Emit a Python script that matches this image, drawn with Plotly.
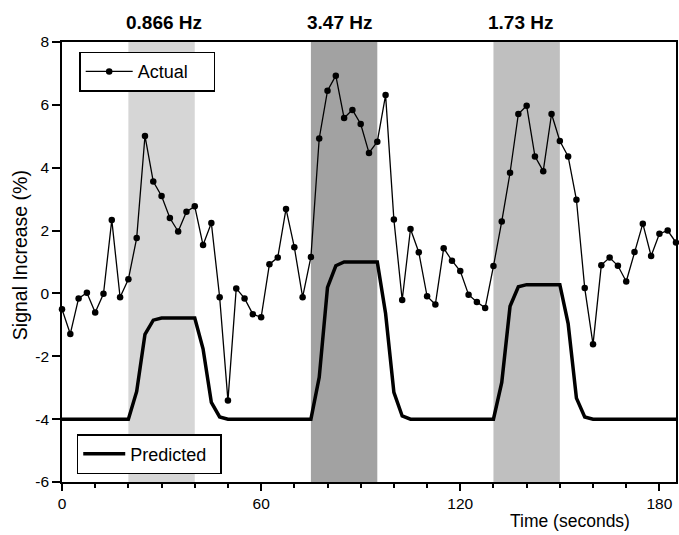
import plotly.graph_objects as go

# ---------------- data ----------------
time_s = [0, 2.5, 5, 7.5, 10, 12.5, 15, 17.5, 20, 22.5, 25, 27.5, 30, 32.5, 35, 37.5,
          40, 42.5, 45, 47.5, 50, 52.5, 55, 57.5, 60, 62.5, 65, 67.5, 70, 72.5, 75,
          77.5, 80, 82.5, 85, 87.5, 90, 92.5, 95, 97.5, 100, 102.5, 105, 107.5, 110,
          112.5, 115, 117.5, 120, 122.5, 125, 127.5, 130, 132.5, 135, 137.5, 140,
          142.5, 145, 147.5, 150, 152.5, 155, 157.5, 160, 162.5, 165, 167.5, 170,
          172.5, 175, 177.5, 180, 182.5, 185]

actual = [-0.50, -1.29, -0.16, 0.02, -0.61, -0.01, 2.34, -0.12, 0.45, 1.76,
          5.01, 3.56, 3.10, 2.40, 1.97, 2.60, 2.77, 1.54, 2.24, -0.12,
          -3.41, 0.16, -0.16, -0.66, -0.76, 0.93, 1.14, 2.69, 1.47, -0.12,
          1.16, 4.93, 6.45, 6.93, 5.58, 5.84, 5.39, 4.47, 4.83, 6.31,
          2.35, -0.21, 2.05, 1.31, -0.09, -0.35, 1.44, 1.04, 0.71, -0.04,
          -0.27, -0.46, 0.87, 2.29, 3.84, 5.71, 5.97, 4.36, 3.89, 5.71,
          4.85, 4.36, 2.98, 0.17, -1.62, 0.90, 1.14, 0.88, 0.38, 1.32,
          2.22, 1.19, 1.90, 2.00, 1.62]

predicted = [-4, -4, -4, -4, -4, -4, -4, -4, -4,
             -3.12, -1.30, -0.85,
             -0.78, -0.78, -0.78, -0.78, -0.78,
             -1.76, -3.47, -3.93,
             -4, -4, -4, -4, -4, -4, -4, -4, -4, -4, -4,
             -2.67, 0.19, 0.88,
             1.0, 1.0, 1.0, 1.0, 1.0,
             -0.64, -3.15, -3.90,
             -4, -4, -4, -4, -4, -4, -4, -4, -4, -4, -4,
             -2.83, -0.41, 0.21,
             0.28, 0.28, 0.28, 0.28, 0.28,
             -0.96, -3.33, -3.93,
             -4, -4, -4, -4, -4, -4, -4, -4, -4, -4, -4]

block_start = [20, 75, 130]
block_end = [40, 95, 150]
block_label = ["0.866 Hz", "3.47 Hz", "1.73 Hz"]
block_label_x = [30.7, 83.6, 138.2]
block_color = ["#d6d6d6", "#a2a2a2", "#bfbfbf"]

x_tick_vals = [0, 60, 120, 180]
x_tick_text = ["0", "60", "120", "180"]
y_tick_vals = [-6, -4, -2, 0, 2, 4, 6, 8]
y_tick_text = ["-6", "-4", "-2", "0", "2", "4", "6", "8"]

FONT = "Liberation Sans, Arial, Helvetica, sans-serif"
NB = "\u00a0"

fig = go.Figure()

fig.add_trace(go.Scatter(
    x=time_s, y=actual, mode="lines+markers",
    name="Actual" + NB * 4,
    line=dict(color="black", width=1.3),
    marker=dict(color="black", size=6.5),
    cliponaxis=False,
    legend="legend",
))
fig.add_trace(go.Scatter(
    x=time_s, y=predicted, mode="lines",
    name="Predicted" + NB + "\u2009",
    line=dict(color="black", width=3.5),
    legend="legend2",
))

shapes = []
annotations = []
for s, e, c, lab, lx in zip(block_start, block_end, block_color, block_label, block_label_x):
    shapes.append(dict(type="rect", xref="x", yref="paper", x0=s, x1=e, y0=0, y1=1,
                       fillcolor=c, line=dict(width=0), layer="below"))
    annotations.append(dict(x=lx, xref="x", y=1.045, yref="paper", text="<b>" + lab + "</b>",
                            showarrow=False, xanchor="center", yanchor="middle",
                            font=dict(size=19, color="black", family=FONT)))

annotations.append(dict(x=0.828, xref="paper", y=-0.089, yref="paper", text="Time (seconds)",
                        showarrow=False, xanchor="center", yanchor="middle",
                        font=dict(size=17.5, color="black", family=FONT)))
annotations.append(dict(x=-0.068, xref="paper", y=0.516, yref="paper", text="Signal Increase (%)",
                        showarrow=False, xanchor="center", yanchor="middle", textangle=-90,
                        font=dict(size=19.5, color="black", family=FONT)))

fig.update_layout(
    width=679, height=535,
    margin=dict(l=62, r=1, t=42, b=53),
    paper_bgcolor="white", plot_bgcolor="white",
    font=dict(family=FONT, color="black", size=15.5),
    shapes=shapes, annotations=annotations,
    legend=dict(x=0.028, y=0.978, xanchor="left", yanchor="top",
                bgcolor="white", bordercolor="black", borderwidth=1.5,
                font=dict(size=18, family=FONT, color="black"), itemwidth=47),
    legend2=dict(x=0.024, y=0.109, xanchor="left", yanchor="top",
                 bgcolor="white", bordercolor="black", borderwidth=1.5,
                 font=dict(size=18, family=FONT, color="black"), itemwidth=42),
    showlegend=True,
)

fig.update_xaxes(
    range=[0, 185], showgrid=False, zeroline=False,
    showline=True, linecolor="black", linewidth=1.5, mirror=True,
    ticks="outside", ticklen=7, tickwidth=1.5, tickcolor="black",
    tickvals=x_tick_vals, ticktext=x_tick_text,
    minor=dict(ticks="outside", ticklen=4, tickwidth=1.5, tickcolor="black", dtick=10, tick0=0),
    tickfont=dict(size=15.5),
)
fig.update_yaxes(
    range=[-6, 8], showgrid=False, zeroline=False,
    showline=True, linecolor="black", linewidth=1.5, mirror=True,
    ticks="outside", ticklen=8, tickwidth=1.5, tickcolor="black",
    tickvals=y_tick_vals, ticktext=y_tick_text,
    tickfont=dict(size=15.5),
)

fig.write_html("out.html")
